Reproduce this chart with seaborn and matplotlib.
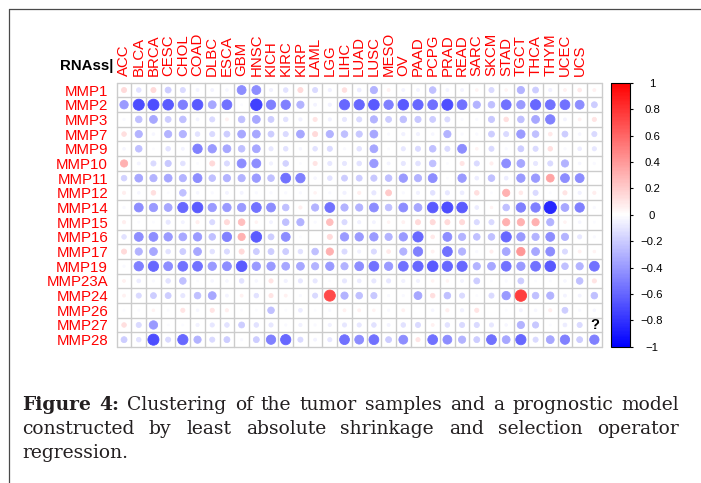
import numpy as np
import pandas as pd
import matplotlib
matplotlib.use("Agg")
import matplotlib.pyplot as plt
import seaborn as sns
from matplotlib.colors import LinearSegmentedColormap, Normalize
from matplotlib.transforms import Bbox, blended_transform_factory
from matplotlib.lines import Line2D
import matplotlib.cm as cm

# ---------------- data ----------------
cancers = ["ACC", "BLCA", "BRCA", "CESC", "CHOL", "COAD", "DLBC", "ESCA", "GBM", "HNSC",
           "KICH", "KIRC", "KIRP", "LAML", "LGG", "LIHC", "LUAD", "LUSC", "MESO", "OV",
           "PAAD", "PCPG", "PRAD", "READ", "SARC", "SKCM", "STAD", "TGCT", "THCA", "THYM",
           "UCEC", "UCS", "UVM"]
genes = ["MMP1", "MMP2", "MMP3", "MMP7", "MMP9", "MMP10", "MMP11", "MMP12", "MMP14",
         "MMP15", "MMP16", "MMP17", "MMP19", "MMP23A", "MMP24", "MMP26", "MMP27", "MMP28"]

mmp1 = [.15, -.12, .15, -.2, -.15, -.05, -.05, -.04, -.45, -.45, -.06, -.12, .15, -.15, -.06, .12,
        -.08, -.3, .05, -.05, -.05, -.25, -.05, -.05, .04, -.15, .04, -.3, -.2, -.06, .05, .08, .05]
mmp2 = [-.4, -.7, -.7, -.65, -.5, -.65, -.35, -.55, -.02, -.75, -.5, -.5, -.3, -.05, -.06, -.6,
        -.6, -.65, -.5, -.65, -.6, -.55, -.7, -.55, -.3, -.25, -.55, -.4, -.6, -.55, -.55, -.45, -.2]
mmp3 = [-.03, -.25, -.35, -.2, -.25, -.05, -.15, .05, -.25, -.35, -.2, -.12, -.06, .1, -.06, -.1,
        -.15, -.3, -.2, -.25, -.22, -.2, -.15, -.03, -.03, -.22, .12, -.25, -.35, -.5, -.05, .05, .1]
mmp7 = [.12, -.3, -.04, -.3, -.3, -.12, -.15, -.2, -.35, -.35, -.2, -.15, -.35, .15, -.3, -.25,
        -.22, -.35, -.03, -.06, -.06, -.04, -.3, -.03, -.03, -.2, -.15, -.4, -.25, .08, -.2, -.04, -.15]
mmp9 = [-.04, -.25, -.02, -.12, -.05, -.5, -.4, -.35, -.25, -.35, -.1, -.12, -.04, -.12, -.15, -.03,
        -.12, -.35, -.02, -.1, -.15, -.25, -.15, -.45, .04, -.15, -.03, -.2, -.15, .12, -.03, -.08, -.1]
mmp10 = [.3, -.05, -.15, -.22, -.12, -.02, .15, -.15, -.45, -.45, -.06, -.18, -.02, .1, -.1, -.1,
         -.12, -.4, -.05, -.1, -.12, -.25, -.02, .1, -.15, .06, -.45, -.35, -.1, -.15, -.3, -.04, -.03]
mmp11 = [-.18, -.35, -.3, -.35, -.3, -.45, -.25, -.3, -.3, -.4, -.25, -.55, -.5, -.04, -.12, -.2,
         -.2, -.22, -.25, -.4, -.3, -.45, -.02, -.4, -.08, -.25, -.08, -.4, -.4, .35, -.45, -.45, 0.0]
mmp12 = [.06, -.04, .12, -.02, -.25, -.04, -.03, -.05, -.05, -.03, -.03, -.03, -.03, .04, -.03, -.06,
         .06, -.1, .2, -.03, -.06, -.12, -.1, -.08, .12, -.02, .3, .08, -.15, -.02, .1, -.06, .06]
mmp14 = [-.03, -.45, -.4, -.35, -.6, -.65, -.4, -.4, -.4, -.55, -.45, -.25, .06, -.3, -.55, -.3,
         -.3, -.45, -.25, -.45, -.35, -.65, -.7, -.65, -.08, .04, -.25, -.5, -.5, -.85, -.35, -.5, -.03]
mmp15 = [.06, -.02, -.02, -.1, -.05, .06, -.15, .15, .25, .04, -.05, -.25, -.3, -.03, .25, -.15,
         -.06, -.05, .04, .05, .15, .15, .15, .15, -.15, -.15, .3, .3, .3, -.3, .04, -.04, -.02]
mmp16 = [-.12, -.45, -.45, -.4, -.35, -.4, -.25, -.5, .3, -.65, -.2, -.45, -.02, 0.0, .15, -.4,
         -.4, -.4, -.3, -.4, -.6, .08, -.45, -.3, -.25, -.25, -.6, -.4, -.3, -.45, -.3, -.1, -.03]
mmp17 = [.15, -.3, -.35, -.12, -.2, -.35, -.12, -.15, .15, -.2, -.2, -.2, -.12, -.25, .3, -.15,
         -.06, -.15, .08, -.3, -.5, .05, -.55, -.3, -.03, .06, -.35, .4, -.35, -.45, -.15, .05, .04]
mmp19 = [-.03, -.5, -.6, -.45, -.55, -.55, -.4, -.45, -.65, -.4, -.4, -.35, -.35, -.3, -.4, -.3,
         -.45, -.55, -.4, -.55, -.6, -.65, -.6, -.6, -.3, -.35, -.55, -.4, -.55, -.65, -.25, -.3, -.55]
mmp23a = [.05, -.08, -.03, -.12, -.25, -.02, -.04, -.04, -.12, -.04, .1, -.06, -.1, -.1, -.02, -.1,
          -.08, -.1, -.1, -.06, -.06, .04, .04, -.05, -.2, -.02, -.03, -.2, -.02, -.02, -.04, -.25, .1]
mmp24 = [.05, -.15, -.2, -.2, -.1, -.25, -.35, -.05, .05, -.12, .1, .05, -.03, -.15, .7, -.3,
         -.25, -.22, -.03, -.03, -.35, .12, -.25, -.15, -.02, -.15, -.4, .75, -.25, -.3, -.05, -.05, -.25]
mmp26 = [-.02, -.02, .04, -.02, .1, -.04, .1, .06, -.02, -.02, -.25, -.02, -.08, -.02, -.03, .05,
         .05, .04, -.03, .05, 0.0, -.04, .06, -.06, .1, 0.0, -.02, -.05, -.04, .06, -.2, -.03, -.04]
mmp27 = [.12, -.15, -.4, -.02, -.02, -.06, -.1, -.12, -.2, -.12, -.1, -.03, -.06, -.03, -.06, -.1,
         -.1, -.12, -.05, -.12, -.15, .05, -.12, -.15, -.15, -.1, -.04, -.3, -.22, -.02, -.08, -.15, np.nan]
mmp28 = [-.2, -.12, -.7, -.15, -.6, -.3, -.15, -.2, -.03, -.2, -.5, -.6, -.15, -.05, -.1, -.55,
         -.45, -.55, -.2, -.45, .1, -.55, -.45, -.3, -.2, -.55, -.35, -.6, -.15, -.35, -.5, -.2, -.5]

gene_rows = [mmp1, mmp2, mmp3, mmp7, mmp9, mmp10, mmp11, mmp12, mmp14, mmp15,
             mmp16, mmp17, mmp19, mmp23a, mmp24, mmp26, mmp27, mmp28]

corner_label = "RNAss|"
cbar_ticks = [-1, -0.8, -0.6, -0.4, -0.2, 0, 0.2, 0.4, 0.6, 0.8, 1]
caption_lines = [
    [("Figure", True), ("4:", True), ("Clustering", False), ("of", False), ("the", False),
     ("tumor", False), ("samples", False), ("and", False), ("a", False), ("prognostic", False),
     ("model", False)],
    [("constructed", False), ("by", False), ("least", False), ("absolute", False),
     ("shrinkage", False), ("and", False), ("selection", False), ("operator", False)],
    [("regression.", False)],
]

# ---------------- figure ----------------
DPI = 100
W, H = 701, 483
sns.set_theme(style="white")
plt.rcParams["font.family"] = ["Liberation Sans", "DejaVu Sans"]
plt.rcParams["axes.unicode_minus"] = True

fig = plt.figure(figsize=(W / DPI, H / DPI), dpi=DPI)
fig.patch.set_facecolor("white")


def fx(px):
    return px / W


def fy(py):
    return 1 - py / H


gl, gr, gt, gb = 116.7, 601.7, 82.7, 347.0
ax = fig.add_axes([fx(gl), fy(gb), (gr - gl) / W, (gb - gt) / H])

recs = []
for gi, (g, vals) in enumerate(zip(genes, gene_rows)):
    for ci, (c, v) in enumerate(zip(cancers, vals)):
        recs.append((g, c, gi, ci, v))
df = pd.DataFrame(recs, columns=["gene", "cancer", "gi", "ci", "r"])
df["absr"] = df["r"].abs()
plot_df = df.dropna()

cmap = LinearSegmentedColormap.from_list("bwr_corr", ["#0000FF", "#FFFFFF", "#FF0000"], N=200)
cell_px = (gr - gl) / len(cancers)
smax = (0.9 * cell_px * 72 / DPI) ** 2

# grid
for i in range(len(cancers) + 1):
    ax.axvline(i - 0.5, color="#CCCCCC", lw=1.0, zorder=0, clip_on=False)
for j in range(len(genes) + 1):
    ax.axhline(j - 0.5, color="#CCCCCC", lw=1.0, zorder=0, clip_on=False)

sns.scatterplot(data=plot_df, x="ci", y="gi", hue="r", size="absr",
                palette=cmap, hue_norm=(-1, 1), sizes=(0, smax), size_norm=(0, 1),
                linewidth=0.6, edgecolor="face", legend=False, ax=ax, zorder=3)

ax.set_xlim(-0.5, len(cancers) - 0.5)
ax.set_ylim(len(genes) - 0.5, -0.5)
for s in ax.spines.values():
    s.set_visible(False)
ax.set_xlabel("")
ax.set_ylabel("")
ax.set_xticks([])
ax.set_yticks(range(len(genes)))
ax.set_yticklabels(genes, color="#FF0000", fontsize=10.8)
ax.tick_params(axis="y", length=0, pad=6.2)

# NA cells
for _, row in df[df["r"].isna()].iterrows():
    ax.text(row["ci"], row["gi"], "?", ha="center", va="center", fontsize=10.5,
            fontweight="bold", color="black", zorder=4)

# column labels
trans = blended_transform_factory(ax.transData, ax.transAxes)
for i, c in enumerate(cancers):
    t = ax.text(i, 1 + 7.0 / (gb - gt), c, rotation=90, ha="center", va="bottom",
                color="#FF0000", fontsize=10.8, transform=trans, clip_on=False)
    if i == len(cancers) - 1:
        t.set_clip_box(Bbox.from_extents(599.5, 0, W, H))
        t.set_clip_on(True)

# corner label
fig.text(fx(113), fy(70), corner_label, ha="right", va="baseline", fontsize=10.8,
         fontweight="bold", color="black")

# colorbar
cax = fig.add_axes([fx(611), fy(346.7), 19 / W, 264.0 / H])
sm = cm.ScalarMappable(norm=Normalize(-1, 1), cmap=cmap)
cb = fig.colorbar(sm, cax=cax, ticks=cbar_ticks)
cb.outline.set_linewidth(0.8)
cb.outline.set_edgecolor("black")


def fmt(v):
    if abs(v) < 1e-9:
        return "0"
    s = ("%g" % abs(v))
    return ("\u2212" + s) if v < 0 else s


cb.ax.set_yticklabels([fmt(v) for v in cbar_ticks])
cb.ax.tick_params(axis="y", length=2.2, width=0.8, color="black", labelsize=8.2,
                  labelcolor="black", pad=13.6, right=True)
for lab in cb.ax.get_yticklabels():
    lab.set_horizontalalignment("center")

# frame lines
fig.add_artist(Line2D([fx(9), 1], [fy(9), fy(9)], transform=fig.transFigure,
                      color="#4a4a4a", lw=0.9))
fig.add_artist(Line2D([fx(9), fx(9)], [fy(9), 0], transform=fig.transFigure,
                      color="#4a4a4a", lw=0.9))

# caption, justified
renderer = fig.canvas.get_renderer()
cap_family = ["DejaVu Serif"]
left_px, right_px = 22, 679


def word_width(t, bold, fs):
    tt = fig.text(0, 0, t, fontsize=fs, family=cap_family,
                  fontweight="bold" if bold else "normal")
    w = tt.get_window_extent(renderer).width
    tt.remove()
    return w


# pick a font size so the first line fits with slightly stretched spaces
cap_fs = 13.5
for _ in range(20):
    words = caption_lines[0]
    sp = word_width("a b", False, cap_fs) - word_width("ab", False, cap_fs)
    nat = sum(word_width(w, b, cap_fs) for w, b in words) + sp * (len(words) - 1) * 1.25
    if nat <= right_px - left_px:
        break
    cap_fs -= 0.25

baselines = [410, 434, 458]
for li, (words, base) in enumerate(zip(caption_lines, baselines)):
    widths = [word_width(w, b, cap_fs) for w, b in words]
    if li < len(caption_lines) - 1 and len(words) > 1:
        gap = (right_px - left_px - sum(widths)) / (len(words) - 1)
    else:
        gap = word_width("a b", False, cap_fs) - word_width("ab", False, cap_fs)
    x = left_px
    for (w, b), wd in zip(words, widths):
        fig.text(fx(x), fy(base), w, ha="left", va="baseline", fontsize=cap_fs,
                 family=cap_family, fontweight="bold" if b else "normal", color="#231F20")
        x += wd + gap

fig.savefig("out.png", dpi=DPI, facecolor="white")
